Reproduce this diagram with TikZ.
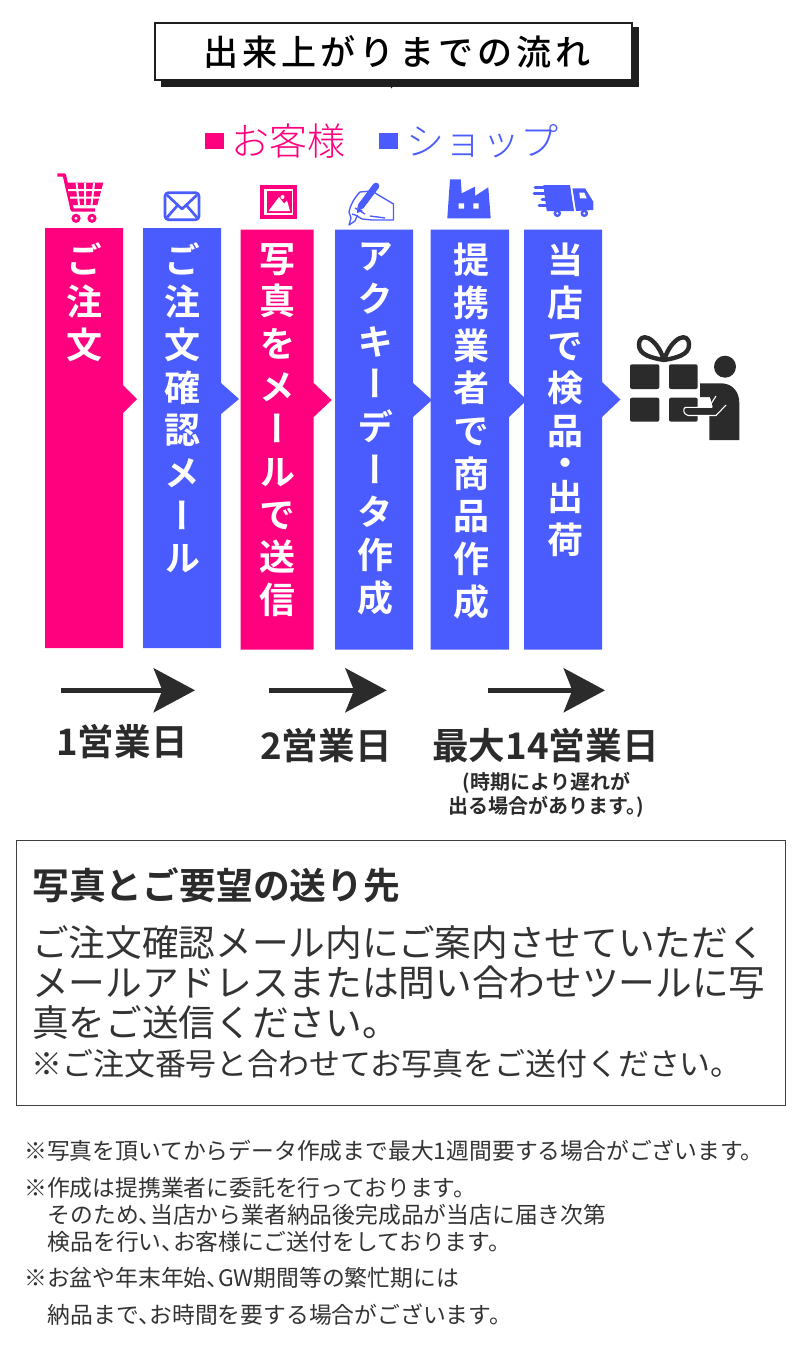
\documentclass[tikz,border=0pt]{standalone}
\usepackage{fontspec}
\usetikzlibrary{arrows.meta}
\setmainfont{Noto Sans CJK JP}
\newfontfamily\jp{Noto Sans CJK JP}
\newfontfamily\jpl{Noto Sans CJK JP Light}
\newfontfamily\jpm{Noto Sans CJK JP Medium}
\newfontfamily\jpb{Noto Sans CJK JP Bold}
\newfontfamily\jpv[RawFeature={+vert}]{Noto Sans CJK JP Bold}
\definecolor{pk}{HTML}{FF007F}
\definecolor{bl}{HTML}{4B5CFF}
\definecolor{dk}{HTML}{2B2B2B}
\definecolor{tx}{HTML}{333333}
\newcommand{\ten}{、\kern-.5em}
\newcommand{\fs}[1]{\fontsize{#1}{#1}\selectfont}
\tikzset{
  lbl/.style={anchor=base west,inner sep=0pt,text=tx},
  clbl/.style={anchor=base,inner sep=0pt,text=dk},
  vcol/.style={anchor=north,inner sep=0pt,text=white,align=center,font=\jpv\fontsize{27}{32}\selectfont},
  daybar/.style={-{Stealth[length=31pt,width=33pt,inset=6.5pt]},line width=3.5pt,dk},
  small/.style={lbl,font=\jp\fs{17.1}},
  big/.style={lbl,font=\jp\fs{27.5}},
}
\begin{document}
\begin{tikzpicture}[x=0.75pt,y=-0.75pt]
\useasboundingbox (0,0) rectangle (800,1359);
% title
\fill[black!88] (160.7,27) rectangle (639,86.7);
\fill[black!88] (390,86) -- (393,86) -- (391.5,88.5) -- cycle;
\node[draw=black!88,line width=1.9pt,fill=white,minimum width=357.5pt,minimum height=42.5pt,inner sep=0pt] (titlebox) at (393.5,51.5) {};
\node[anchor=center,inner sep=0pt,text=black] (title) at (397,52) {\jpm\addfontfeatures{LetterSpace=11.7}\fs{26.3}出来上がりまでの流れ};
% legend
\fill[pk] (205,132.7) rectangle (224.3,149);
\node[lbl,text=pk,font=\jpl\fs{28.5}] (lgA) at (231.5,156) {お客様};
\fill[bl] (379.3,132.7) rectangle (398,149);
\node[lbl,text=bl,font=\jpl\fs{28.5}] (lgB) at (406.5,156) {ショップ};
% bars
\fill[pk] (45,228)--(123,228)--(123,385)--(137,399)--(123,413)--(123,648)--(45,648)--cycle;
\fill[bl] (143,228)--(221,228)--(221,383)--(239,399)--(221,414)--(221,648)--(143,648)--cycle;
\fill[pk] (240.7,229.5)--(313.7,229.5)--(313.7,383)--(331.7,400)--(313.7,417)--(313.7,649.5)--(240.7,649.5)--cycle;
\fill[bl] (335,229.5)--(413,229.5)--(413,383)--(432,400)--(413,417)--(413,649.5)--(335,649.5)--cycle;
\fill[bl] (430.7,229.5)--(509,229.5)--(509,383)--(527,400)--(509,417)--(509,649.5)--(430.7,649.5)--cycle;
\fill[bl] (524,229.5)--(602,229.5)--(602,382)--(620.5,399.5)--(602,417)--(602,649.5)--(524,649.5)--cycle;
\node[vcol] (c1) at (84.5,242) {ご\\注\\文};
\node[vcol] (c2) at (182.5,242) {ご\\注\\文\\確\\認\\メ\\ー\\ル};
\node[vcol] (c3) at (277.5,243) {写\\真\\を\\メ\\ー\\ル\\で\\送\\信};
\node[vcol] (c4) at (375,243) {ア\\ク\\キ\\ー\\デ\\ー\\タ\\作\\成};
\node[vcol] (c5) at (471.5,243) {提\\携\\業\\者\\で\\商\\品\\作\\成};
\node[vcol] (c6) at (565,243) {当\\店\\で\\検\\品\\[-8pt]・\\[-6.5pt]出\\荷};
% cart
\draw[pk,line width=2.6pt,line join=round] (57.3,175)--(64.3,175)--(72.3,210)--(95,210);
\fill[pk] (66.7,182.7)--(103.3,182.7)--(97.3,205)--(71.7,205)--cycle;
\draw[white,line width=1.5pt] (68,190)--(102,190) (70,197.5)--(100,197.5) (76.5,183)--(79,205) (85,183)--(85,205) (94,183)--(91.5,205);
\fill[pk] (76,218.3) circle (4.6) (92,218.3) circle (4.6);
\fill[white] (76,218.3) circle (1.6) (92,218.3) circle (1.6);
% envelope
\draw[bl,line width=2pt,rounded corners=2.5pt,line join=round] (165,192.7) rectangle (199,219.7);
\draw[bl,line width=2pt,line join=round] (167,195)--(182,209)--(197,195) (167,217.5)--(177,206) (197,217.5)--(187,206);
% picture
\fill[pk] (260,185) rectangle (296.7,218.7);
\fill[white] (263.5,188.5) rectangle (293,215);
\fill[pk] (267,191) rectangle (291.5,213);
\fill[white] (268.5,211)--(279,197)--(284,203.5)--(287,200.5)--(290,211)--cycle;
\fill[white] (282.5,197) circle (2);
% hand with pen
\draw[bl,line width=1pt,line join=round,fill=white] (372,191)--(360,192) .. controls (354,198) and (350,206) .. (349,212) -- (351,218) -- (349,225) -- (355,221) -- (357,216)
 -- (362,219) -- (372,220) -- (393.5,220) -- (393.5,204) -- (380,196)-- cycle;
\draw[bl,line width=1pt] (352,214)--(358,216) (360,203)--(358,212) (355,208)--(365,214) (370,216)--(385,218);
\draw[bl,line width=5pt,line cap=round] (376,186)--(361,206);
\fill[bl] (357.5,207)--(363,211)--(357,213)--cycle;
% factory
\fill[bl] (447.3,218.3)--(450,179.3)--(460.7,179.3)--(461.7,193.3)--(475,186.7)--(475,196)--(488.3,187.3)--(490.7,218.3)--cycle;
\fill[white] (458.7,203.3) rectangle (464,208.7) (473.3,203.3) rectangle (478.7,208.7);
% truck
\fill[bl] (543.3,185)--(570,185)--(574,211)--(546.7,211)--cycle;
\fill[bl] (572.5,188.3)--(585,188.3)--(593.3,201.7)--(593.3,210)--(576,211)--cycle;
\draw[bl,line width=2.2pt,line cap=round] (535,187.3)--(547,187.3) (534,193.3)--(546,193.3) (542,199.3)--(550,199.3) (539,205.7)--(548,205.7);
\fill[bl] (557.3,213.3) circle (3.8) (584.3,213.3) circle (3.8);
\fill[white] (557.3,213.3) circle (1.2) (584.3,213.3) circle (1.2);
\fill[white] (579.3,192.7)--(584.3,192.7)--(586.7,198.3)--(580,198.3)--cycle;
% gift and person
\fill[dk,rounded corners=1.5pt] (630,364.3) rectangle (659.3,389) (669,364.3) rectangle (697.7,389) (630,397.7) rectangle (659.3,421.7) (669,397.7) rectangle (697.7,421.7);
\draw[dk,line width=3.3pt,line join=round] (664,360) .. controls (656,336) and (639,331) .. (639,345) .. controls (639,355) and (652,358) .. (664,360) .. controls (672,336) and (689,331) .. (689,345) .. controls (689,355) and (676,358) .. (664,360);
\fill[dk] (725,366.7) circle (11);
\fill[dk] (700,383.3)--(722,383.3) .. controls (733,384) and (739.3,392) .. (739.3,403) -- (739.3,440) -- (709.3,440) -- (709.3,415)-- (715,415) -- (710,397) -- (700,397)--cycle;
\fill[dk] (685,408) -- (712,408) -- (718,397) -- (727,405) -- (716,415) -- (688,415) -- cycle;
\draw[white,line width=.8pt,line join=round] (712,407)--(685,407.5) .. controls (683,409) and (683,414) .. (688,415.5) -- (716,415.5) -- (726,405) (709,407)--(716,396);
% day arrows
\coordinate (a1s) at (61,690.3); \coordinate (a1e) at (195,690.3);
\coordinate (a2s) at (269.3,690.3); \coordinate (a2e) at (386.7,690.3);
\coordinate (a3s) at (488.3,690.3); \coordinate (a3e) at (605,690.3);
\draw[daybar] (a1s)--(a1e);
\draw[daybar] (a2s)--(a2e);
\draw[daybar] (a3s)--(a3e);
\node[clbl,font=\jpb\fs{27.4}] (d1) at (122,755) {1営業日};
\node[clbl,font=\jpb\fs{27.4}] (d2) at (326,759) {2営業日};
\node[clbl,font=\jpb\fs{27.5}] (d3) at (545.5,759) {最大14営業日};
\node[clbl,font=\jpb\fs{15}] (n1) at (546.5,789.5) {(時期により遅れが};
\node[clbl,font=\jpb\fs{15}] (n2) at (546.5,813) {出る場合があります。\kern-.5em)};
% info box
\draw[black!75,line width=.75pt] (16,840) rectangle (785,1105);
\node[lbl,font=\jpb\fs{27.6},text=dk] (h) at (32,899) {写真とご要望の送り先};
\node[big] (b1) at (32,956) {ご注文確認メール内にご案内させていただく};
\node[big] (b2) at (32,996) {メールアドレスまたは問い合わせツールに写};
\node[big] (b3) at (32,1036) {真をご送信ください。};
\node[lbl,font=\jp\fs{23.2}] (b4) at (31,1075) {※ご注文番号と合わせてお写真をご送付ください。};
% notes
\node[small] (f1) at (24,1159) {※写真を頂いてからデータ作成まで最大1週間要する場合がございます。};
\node[small] (f2) at (24,1196) {※作成は提携業者に委託を行っております。};
\node[small] (f3) at (47.5,1223.5) {そのため\ten 当店から業者納品後完成品が当店に届き次第};
\node[small] (f4) at (47.5,1250.5) {検品を行い\ten お客様にご送付をしております。};
\node[small] (f5) at (24,1286) {※お盆や年末年始\ten GW期間等の繁忙期には};
\node[small] (f6) at (47.5,1323.5) {納品まで\ten お時間を要する場合がございます。};
\end{tikzpicture}
\end{document}
